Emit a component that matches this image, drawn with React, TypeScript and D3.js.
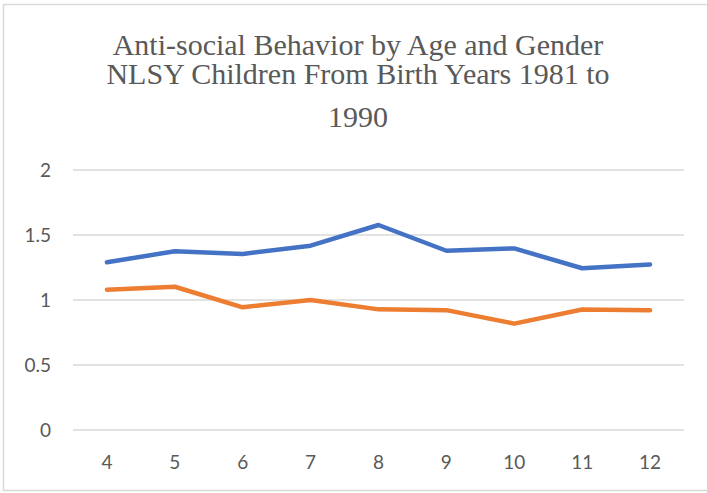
import React from "react";
import * as d3 from "d3";

const ages = ["4", "5", "6", "7", "8", "9", "10", "11", "12"];
const seriesBlue = [1.29, 1.375, 1.354, 1.418, 1.577, 1.379, 1.397, 1.244, 1.274];
const seriesOrange = [1.079, 1.102, 0.944, 1.0, 0.928, 0.922, 0.818, 0.927, 0.921];
const yTicks = [0, 0.5, 1, 1.5, 2];
const titleLines = [
  "Anti-social Behavior by Age and Gender",
  "NLSY Children From Birth Years 1981 to",
  "1990",
];

const W = 707;
const H = 493;

export default function App() {
  const x = d3.scaleBand<string>().domain(ages).range([73, 684]);
  const y = d3.scaleLinear().domain([0, 2]).range([430, 170]);
  const line = d3
    .line<number>()
    .x((_, i) => (x(ages[i]) as number) + x.bandwidth() / 2)
    .y((d) => y(d));
  const gray = "#595959";
  return (
    <svg
      width={W}
      height={H}
      style={{ position: "absolute", left: 0, top: 0 }}
    >
      <rect x={0} y={0} width={W} height={H} fill="#fff" />
      <rect
        x={3.5}
        y={4.5}
        width={W + 5}
        height={486}
        fill="none"
        stroke="#d9d9d9"
        strokeWidth={1.5}
      />
      {titleLines.map((t, i) => (
        <text
          key={i}
          x={358}
          y={[55, 84, 127][i]}
          textAnchor="middle"
          fontFamily="'Liberation Serif', 'Times New Roman', serif"
          fontSize={30}
          fill={gray}
        >
          {t}
        </text>
      ))}
      {yTicks.map((t) => (
        <g key={t}>
          <line
            x1={73}
            x2={684}
            y1={y(t)}
            y2={y(t)}
            stroke="#d9d9d9"
            strokeWidth={1.5}
          />
          <text
            x={51}
            y={y(t)}
            dy="0.36em"
            textAnchor="end"
            fontFamily="Lato, 'Open Sans', sans-serif"
            fontSize={19}
            fill={gray}
          >
            {t}
          </text>
        </g>
      ))}
      {ages.map((a) => (
        <text
          key={a}
          x={(x(a) as number) + x.bandwidth() / 2}
          y={469}
          textAnchor="middle"
          fontFamily="Lato, 'Open Sans', sans-serif"
          fontSize={19}
          fill={gray}
        >
          {a}
        </text>
      ))}
      <path
        d={line(seriesBlue) || ""}
        fill="none"
        stroke="#4472C4"
        strokeWidth={4.5}
        strokeLinecap="round"
        strokeLinejoin="round"
      />
      <path
        d={line(seriesOrange) || ""}
        fill="none"
        stroke="#ED7D31"
        strokeWidth={4.5}
        strokeLinecap="round"
        strokeLinejoin="round"
      />
    </svg>
  );
}
